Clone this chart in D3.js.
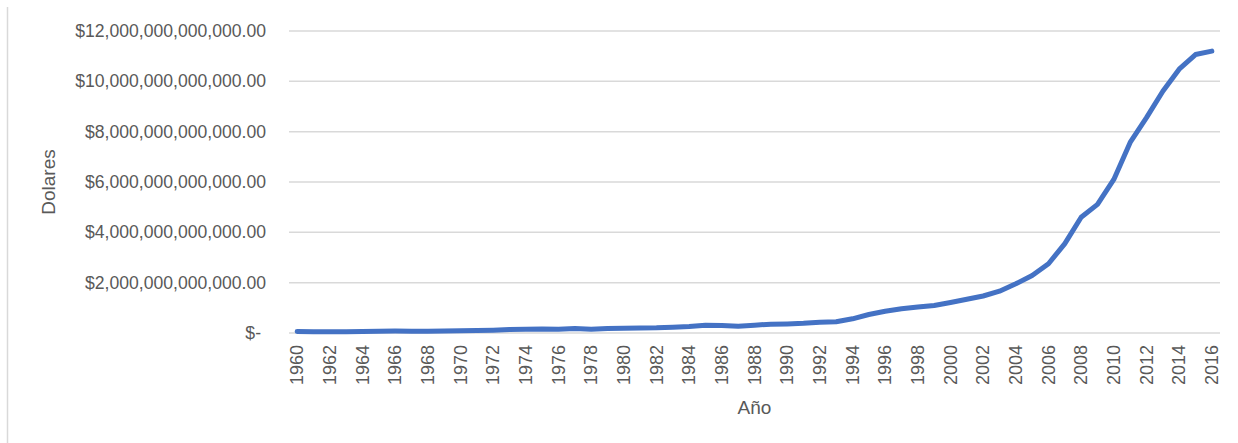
<!DOCTYPE html>
<html>
<head>
<meta charset="utf-8">
<script src="https://cdn.jsdelivr.net/npm/d3@7"></script>
<style>
  html, body { margin: 0; padding: 0; background: #fff; }
  svg { display: block; }
  text { font-family: "Liberation Sans", Arial, sans-serif; fill: #595959; }
</style>
</head>
<body>
<svg id="chart" width="1238" height="443"></svg>
<script>
// Data: year and GDP in US dollars (billions)
const years = d3.range(1960, 2017);
const gdpBillions = [
  59.7, 50.1, 47.2, 50.7, 59.7, 70.4, 76.7, 72.9, 70.8, 79.7,
  92.6, 99.8, 113.7, 138.5, 144.2, 163.4, 153.9, 174.9, 149.5, 178.3,
  191.1, 195.9, 205.1, 230.7, 259.9, 309.5, 300.8, 272.9, 312.4, 347.8,
  360.9, 383.4, 426.9, 444.7, 564.3, 734.5, 863.7, 961.6, 1029.0, 1094.0,
  1211.3, 1339.4, 1470.6, 1660.3, 1955.3, 2286.0, 2752.1, 3552.2, 4598.2, 5110.0,
  6100.6, 7572.6, 8560.5, 9607.2, 10482.4, 11064.7, 11199.1
];
const yTicks = [0, 2e12, 4e12, 6e12, 8e12, 10e12, 12e12];
const xTickYears = years.filter(y => (y - 1960) % 2 === 0);
const yTitle = "Dolares";
const xTitle = "Año";

const svg = d3.select("#chart");
const plot = { left: 289, right: 1220, top: 31, bottom: 333 };

// chart-area left border
svg.append("line")
  .attr("x1", 7.5).attr("x2", 7.5).attr("y1", 7).attr("y2", 443)
  .attr("stroke", "#d9d9d9").attr("stroke-width", 1.5);

const x = d3.scaleBand().domain(years).range([plot.left, plot.right]);
const y = d3.scaleLinear().domain([0, 12e12]).range([plot.bottom, plot.top]);

const fmt = v => v === 0 ? "$-" : "$" + d3.format(",.2f")(v);

// gridlines
svg.append("g").selectAll("line").data(yTicks.filter(d => d !== 0)).join("line")
  .attr("x1", plot.left).attr("x2", plot.right)
  .attr("y1", d => y(d)).attr("y2", d => y(d))
  .attr("stroke", "#d9d9d9").attr("stroke-width", 1.5);

// baseline
svg.append("line")
  .attr("x1", plot.left).attr("x2", plot.right)
  .attr("y1", y(0)).attr("y2", y(0))
  .attr("stroke", "#d9d9d9").attr("stroke-width", 1.5);

// y labels
svg.append("g").selectAll("text").data(yTicks).join("text")
  .attr("x", 266).attr("y", d => y(d))
  .attr("text-anchor", "end").attr("dominant-baseline", "central")
  .style("font-size", "17.6px")
  .attr("dx", d => d === 0 ? -5 : 0)
  .text(fmt);

// x labels
svg.append("g").selectAll("text").data(xTickYears).join("text")
  .attr("transform", d => `translate(${x(d) + x.bandwidth() / 2},345) rotate(-90)`)
  .attr("text-anchor", "end").attr("dominant-baseline", "central")
  .style("font-size", "18px")
  .text(d => d);

// line
const line = d3.line()
  .x((d, i) => x(years[i]) + x.bandwidth() / 2)
  .y(d => y(d * 1e9));
svg.append("path").datum(gdpBillions)
  .attr("d", line)
  .attr("fill", "none").attr("stroke", "#4472C4")
  .attr("stroke-width", 5).attr("stroke-linejoin", "round").attr("stroke-linecap", "round");

// axis titles
svg.append("text")
  .attr("transform", `translate(48,182) rotate(-90)`)
  .attr("text-anchor", "middle").attr("dominant-baseline", "central")
  .style("font-size", "19px")
  .text(yTitle);
svg.append("text")
  .attr("x", (plot.left + plot.right) / 2).attr("y", 407)
  .attr("text-anchor", "middle").attr("dominant-baseline", "central")
  .style("font-size", "19px")
  .text(xTitle);
</script>
</body>
</html>
